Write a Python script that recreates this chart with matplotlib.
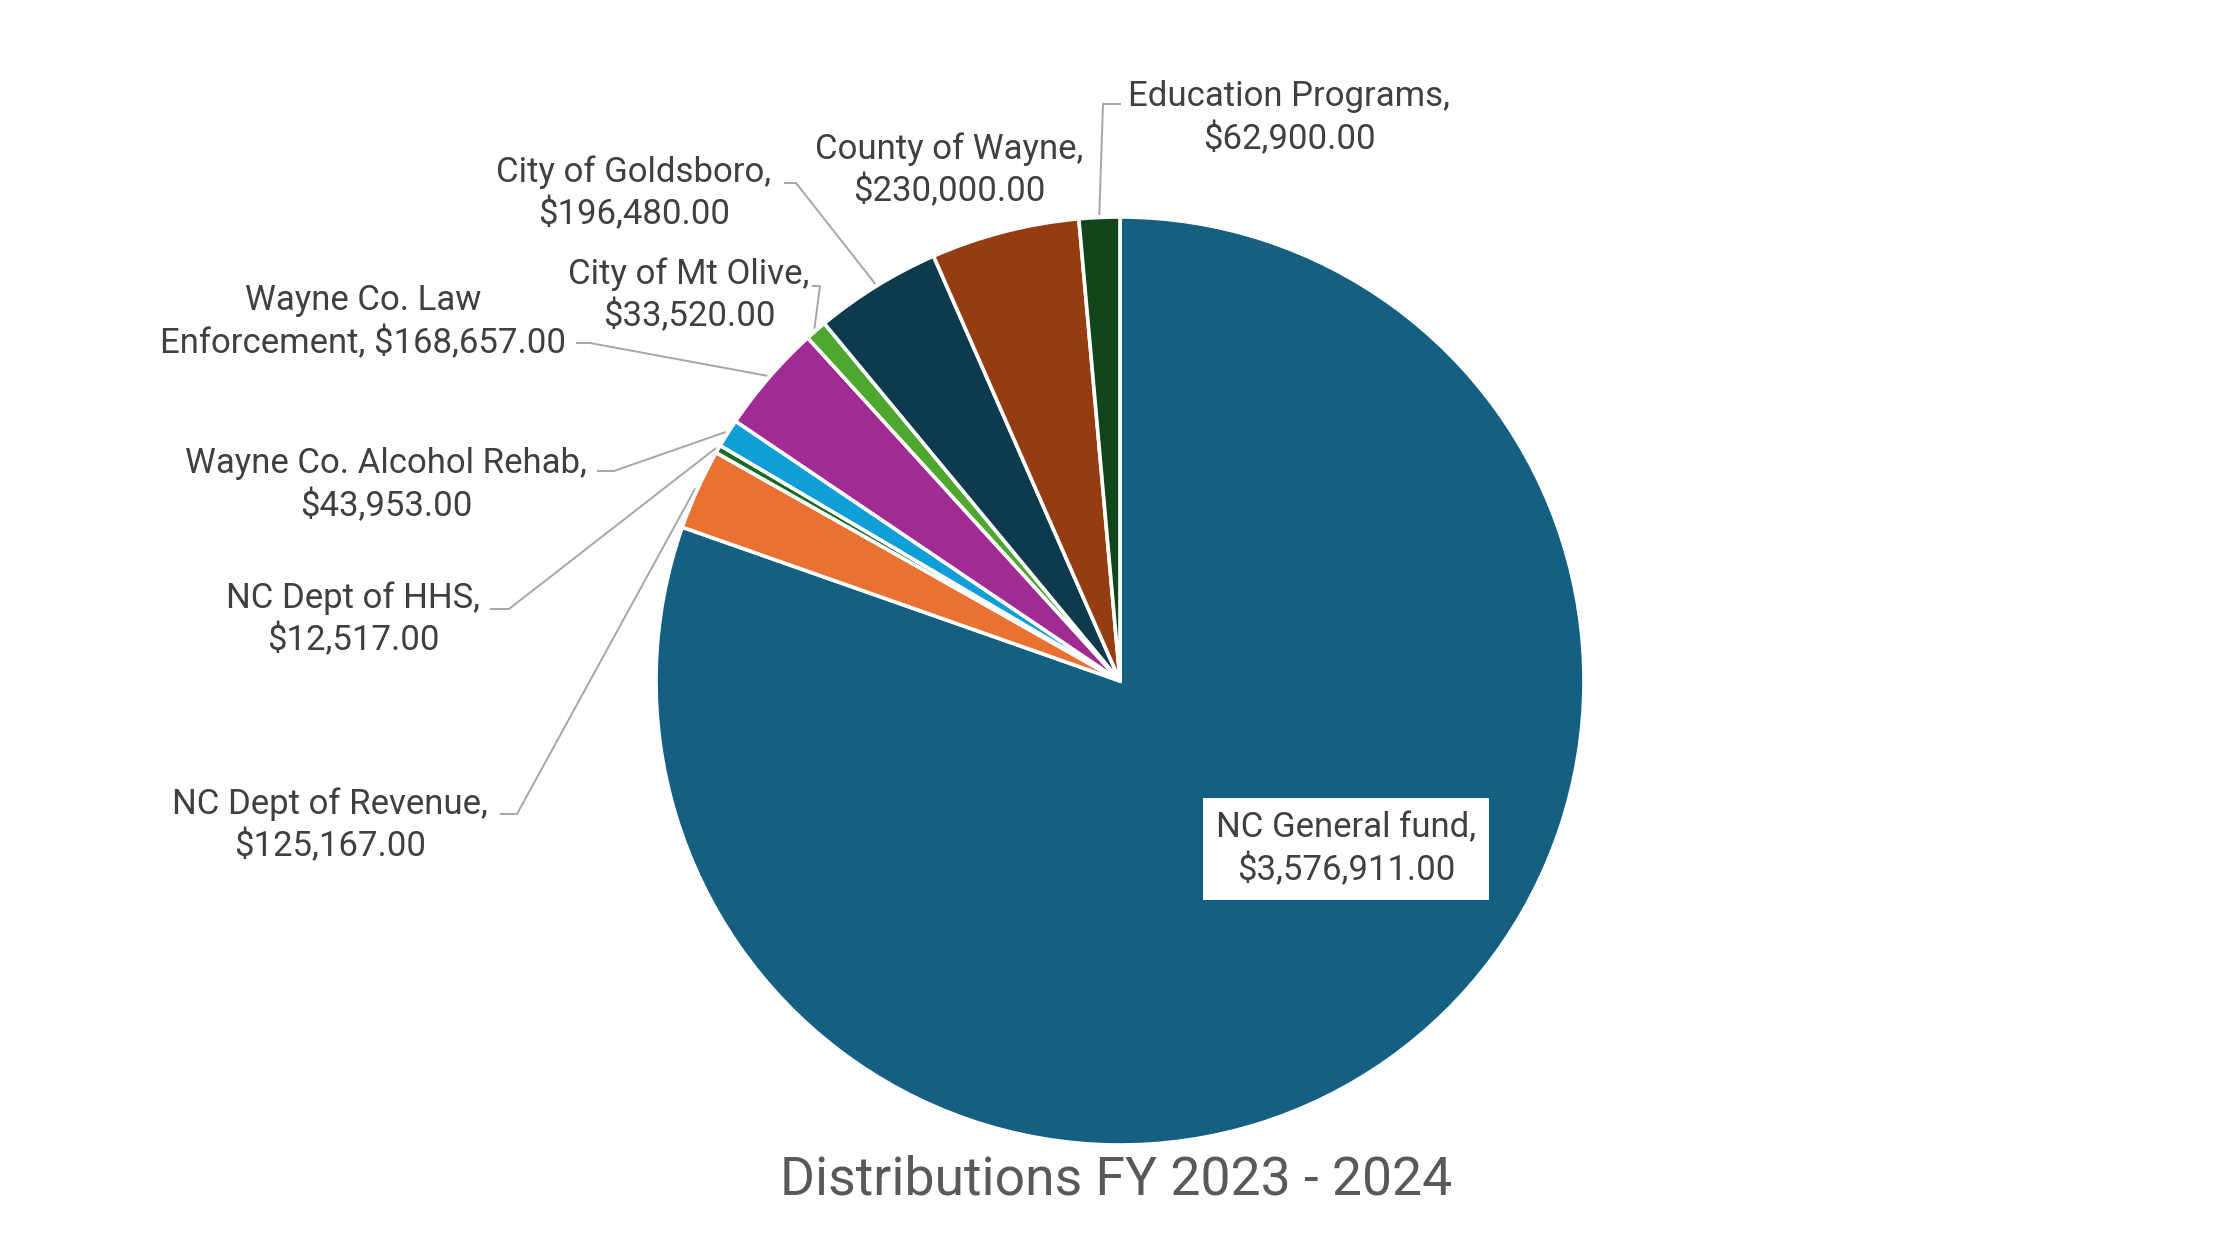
import matplotlib.pyplot as plt
import numpy as np

# data
categories = [
    "NC General fund", "NC Dept of Revenue", "NC Dept of HHS",
    "Wayne Co. Alcohol Rehab", "Wayne Co. Law\nEnforcement", "City of Mt Olive",
    "City of Goldsboro", "County of Wayne", "Education Programs",
]
amounts = [3576911, 125167, 12517, 43953, 168657, 33520, 196480, 230000, 62900]
colors = ['#156082', '#E97132', '#196B24', '#0F9ED5', '#A02B93',
          '#4EA72E', '#0E3A4E', '#963C11', '#11451A']
title = "Distributions FY 2023 - 2024"

# layout, in pixels of the 2240x1260 image (y measured from the top)
W, H = 2240, 1260
center = (1120, 681)
radius = 464
# text centre and leader stub (x0, x1, y) for each slice, None = no leader
label_pos = [(1346, 849), (330, 825), (353, 619), (386, 485), (363, 322),
             (689, 295), (634, 193), (949, 170), (1289, 118)]
stubs = [None, (500, 517, 814), (490, 509, 609), (597, 614, 471),
         (576, 590, 343), (812, 820, 286), (784, 796, 183), None,
         (1121, 1103, 104)]

plt.rcParams['font.family'] = ['Roboto', 'DejaVu Sans']

fig = plt.figure(figsize=(W / 100, H / 100), dpi=100)
ax = fig.add_axes([0, 0, 1, 1])

cx, cy = center[0], H - center[1]
wedges, _ = ax.pie(amounts, colors=colors, startangle=90, counterclock=False,
                   center=(cx, cy), radius=radius, frame=True,
                   wedgeprops=dict(edgecolor='white', linewidth=2.6))
ax.set_xlim(0, W)
ax.set_ylim(0, H)
ax.set_aspect('equal')
ax.axis('off')

text_color = '#404040'
line_color = '#A6A6A6'
for name, amt, (tx, ty), stub, w in zip(categories, amounts, label_pos,
                                         stubs, wedges):
    sep = " " if "\n" in name else "\n"
    txt = f"{name},{sep}${amt:,.2f}"
    kw = dict(ha='center', va='center', fontsize=25, color=text_color,
              linespacing=1.3)
    if name == "NC General fund":
        kw['bbox'] = dict(boxstyle='square,pad=0.38', fc='white', ec='none')
    ax.text(tx, H - ty, txt, **kw)
    if stub is not None:
        mid = np.deg2rad((w.theta1 + w.theta2) / 2)
        ex = cx + radius * 1.005 * np.cos(mid)
        ey = cy + radius * 1.005 * np.sin(mid)
        x0, x1, sy = stub
        ax.plot([x0, x1, ex], [H - sy, H - sy, ey], color=line_color,
                lw=1.4, solid_capstyle='butt', zorder=0.5)

ax.text(1116, H - 1180, title, ha='center', va='center', fontsize=38.5,
        color='#595959')

fig.savefig('out.png', dpi=100)
